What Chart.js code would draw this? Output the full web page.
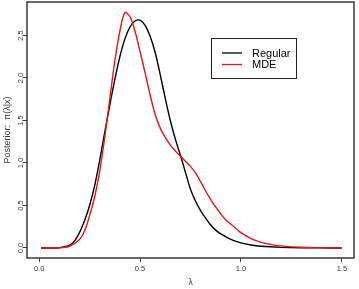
<!DOCTYPE html>
<html>
<head>
<meta charset="utf-8">
<script src="https://cdn.jsdelivr.net/npm/chart.js@4"></script>
<style>
html,body{margin:0;padding:0;background:#fff;}
#wrap{width:359px;height:289px;}
</style>
</head>
<body>
<div id="wrap"><canvas id="c" width="359" height="289"></canvas></div>
<script>
// ---- data ----
const lambdaRegular = [0.01,0.05,0.1,0.15,0.175,0.2,0.225,0.25,0.275,0.3,0.325,0.35,0.375,0.4,0.425,0.45,0.475,0.5,0.525,0.55,0.575,0.6,0.625,0.65,0.675,0.7,0.725,0.75,0.775,0.8,0.825,0.85,0.875,0.9,0.95,1.0,1.05,1.1,1.2,1.3,1.4,1.5];
const regular = [0,0,0.003,0.03,0.08,0.18,0.32,0.5,0.73,1.03,1.36,1.68,1.98,2.25,2.46,2.6,2.67,2.68,2.62,2.49,2.3,2.04,1.76,1.5,1.28,1.09,0.89,0.69,0.55,0.44,0.35,0.27,0.21,0.165,0.1,0.06,0.035,0.02,0.007,0.002,0.001,0];
const lambdaMDE = [0.01,0.05,0.1,0.15,0.2,0.225,0.25,0.275,0.3,0.325,0.35,0.375,0.4,0.425,0.45,0.475,0.5,0.525,0.55,0.575,0.6,0.625,0.65,0.675,0.7,0.725,0.75,0.775,0.8,0.825,0.85,0.875,0.9,0.925,0.95,0.975,1.0,1.05,1.1,1.15,1.2,1.3,1.4,1.5];
const mde = [0,0,0.002,0.02,0.1,0.2,0.38,0.6,0.9,1.3,1.75,2.2,2.55,2.77,2.72,2.55,2.31,2.06,1.8,1.57,1.41,1.3,1.21,1.14,1.08,1.02,0.96,0.88,0.78,0.67,0.57,0.48,0.4,0.33,0.28,0.23,0.18,0.11,0.065,0.04,0.025,0.008,0.003,0.001];
const xTicks = [0, 0.5, 1.0, 1.5];
const xTickLabels = ["0.0", "0.5", "1.0", "1.5"];
const yTicks = [0, 0.5, 1.0, 1.5, 2.0, 2.5];
const yTickLabels = ["0.0", "0.5", "1.0", "1.5", "2.0", "2.5"];
const seriesNames = ["Regular", "MDE"];
const seriesColors = ["#000000", "#e8141c"];
const xTitle = "λ";
const yTitle = "Posterior:  π(λ|x)";

const toPts = (xs, ys) => xs.map((x, i) => ({x: x, y: ys[i]}));

const frame = {
  id: 'frame',
  afterDatasetsDraw(chart) {
    const a = chart.chartArea, ctx = chart.ctx;
    ctx.save();
    ctx.strokeStyle = '#3a3a3a';
    ctx.lineWidth = 1.5;
    ctx.strokeRect(a.left, a.top, a.right - a.left, a.bottom - a.top);
    // legend
    const lx = 211, ly = 38, lw = 85, lh = 40;
    ctx.fillStyle = '#fff';
    ctx.fillRect(lx, ly, lw, lh);
    ctx.strokeStyle = '#222';
    ctx.lineWidth = 1;
    ctx.strokeRect(lx + 0.5, ly + 0.5, lw, lh);
    ctx.font = '11px "Liberation Sans", Arial, sans-serif';
    ctx.textBaseline = 'middle';
    ctx.textAlign = 'left';
    seriesNames.forEach((n, i) => {
      const yy = 53 + i * 11.5;
      ctx.strokeStyle = seriesColors[i];
      ctx.lineWidth = 1.3;
      ctx.beginPath(); ctx.moveTo(222, yy); ctx.lineTo(242, yy); ctx.stroke();
      ctx.fillStyle = '#000';
      ctx.fillText(n, 252, yy + 0.5);
    });
    ctx.restore();
  }
};

new Chart(document.getElementById('c'), {
  type: 'line',
  data: {
    datasets: [
      {label: seriesNames[0], data: toPts(lambdaRegular, regular), borderColor: seriesColors[0], borderWidth: 1.4, pointRadius: 0, tension: 0.35, order: 1, fill: false},
      {label: seriesNames[1], data: toPts(lambdaMDE, mde), borderColor: seriesColors[1], borderWidth: 1.4, pointRadius: 0, tension: 0.35, order: 0, fill: false}
    ]
  },
  options: {
    responsive: false,
    animation: false,
    devicePixelRatio: 1,
    layout: {padding: {top: 2, right: 5, left: 0, bottom: 0}},
    plugins: {legend: {display: false}, tooltip: {enabled: false}},
    scales: {
      x: {
        type: 'linear', min: -0.06, max: 1.56,
        afterFit: s => { s.height = 31; },
        afterBuildTicks: s => { s.ticks = xTicks.map(v => ({value: v})); },
        grid: {display: true, drawOnChartArea: false, drawTicks: true, tickLength: 4, color: '#3a3a3a', lineWidth: 1},
        border: {display: false},
        ticks: {color: '#333', font: {family: '"Liberation Sans", Arial, sans-serif', size: 7.5}, padding: 2, maxRotation: 0, autoSkip: false,
          callback: (v) => { const i = xTicks.indexOf(v); return i >= 0 ? xTickLabels[i] : ''; }},
        title: {display: true, text: xTitle, color: '#333', font: {family: '"Liberation Sans", Arial, sans-serif', size: 8.5}, padding: {top: 0, bottom: 1}}
      },
      y: {
        type: 'linear', min: -0.118, max: 2.894,
        afterFit: s => { s.width = 27; },
        afterBuildTicks: s => { s.ticks = yTicks.map(v => ({value: v})); },
        grid: {display: true, drawOnChartArea: false, drawTicks: true, tickLength: 4, color: '#3a3a3a', lineWidth: 1},
        border: {display: false},
        ticks: {color: '#333', font: {family: '"Liberation Sans", Arial, sans-serif', size: 7.5}, padding: -3.5, minRotation: 90, maxRotation: 90, crossAlign: 'center', autoSkip: false,
          callback: (v) => { const i = yTicks.indexOf(v); return i >= 0 ? yTickLabels[i] : ''; }},
        title: {display: true, text: yTitle, color: '#333', font: {family: '"Liberation Sans", Arial, sans-serif', size: 9}, padding: {top: 2, bottom: 0}}
      }
    }
  },
  plugins: [frame]
});
</script>
</body>
</html>
